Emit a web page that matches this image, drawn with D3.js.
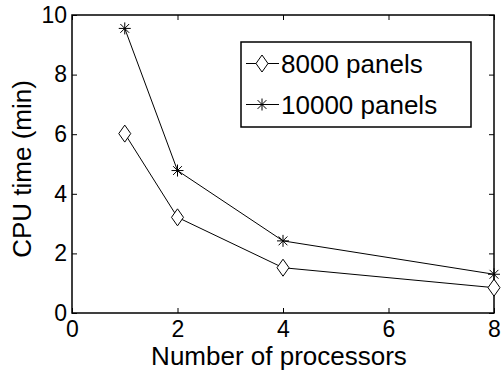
<!DOCTYPE html>
<html>
<head>
<meta charset="utf-8">
<script src="https://cdn.jsdelivr.net/npm/d3@7"></script>
<style>
  html, body { margin: 0; padding: 0; background: #fff; }
  svg text { font-family: "Liberation Sans", Arial, Helvetica, sans-serif; fill: #000; }
</style>
</head>
<body>
<svg id="chart" width="501" height="372"></svg>
<script>
// Processor counts and CPU times (minutes) for the two problem sizes
const processors = [1, 2, 4, 8];
const time8000 = [6.02, 3.21, 1.52, 0.85];
const time10000 = [9.55, 4.78, 2.42, 1.30];
const seriesNames = ["8000 panels", "10000 panels"];
const xTicks = [0, 2, 4, 6, 8];
const yTicks = [0, 2, 4, 6, 8, 10];

const svg = d3.select("#chart");
const plotL = 72, plotR = 494, plotT = 15, plotB = 313;

const x = d3.scaleLinear().domain([0, 8]).range([plotL, plotR]);
const y = d3.scaleLinear().domain([0, 10]).range([plotB, plotT]);

const tickLen = 5;
const tickFont = 23;
const labelFont = 26;

// Axes: ticks point inward, mirrored on top and right edges
const g = svg.append("g");
const xBottom = d3.axisBottom(x).tickValues(xTicks).tickSize(-tickLen).tickPadding(8).tickFormat(d3.format("d"));
const xTop = d3.axisTop(x).tickValues(xTicks).tickSize(-tickLen).tickFormat("");
const yLeft = d3.axisLeft(y).tickValues(yTicks).tickSize(-tickLen).tickPadding(5).tickFormat(d3.format("d"));
const yRight = d3.axisRight(y).tickValues(yTicks).tickSize(-tickLen).tickFormat("");

function styleAxis(sel) {
  sel.select(".domain").remove();
  sel.selectAll(".tick line").attr("stroke", "#000").attr("stroke-width", 1);
  sel.selectAll(".tick text").style("font-size", tickFont + "px").attr("fill", "#000");
}

g.append("g").attr("transform", `translate(0,${plotB})`).call(xBottom).call(styleAxis)
  .selectAll(".tick text").attr("dy", "0.71em");
g.append("g").attr("transform", `translate(0,${plotT})`).call(xTop).call(styleAxis);
g.append("g").attr("transform", `translate(${plotL},0)`).call(yLeft).call(styleAxis);
g.append("g").attr("transform", `translate(${plotR},0)`).call(yRight).call(styleAxis);

// Plot frame
g.append("rect")
  .attr("x", plotL).attr("y", plotT)
  .attr("width", plotR - plotL).attr("height", plotB - plotT)
  .attr("fill", "none").attr("stroke", "#000").attr("stroke-width", 1.5);

// Axis titles
svg.append("text")
  .attr("x", 279).attr("y", 365)
  .attr("text-anchor", "middle")
  .style("font-size", labelFont + "px")
  .text("Number of processors");

svg.append("text")
  .attr("transform", `translate(31,${(plotT + plotB) / 2 + 5}) rotate(-90)`)
  .attr("text-anchor", "middle")
  .style("font-size", labelFont + "px")
  .text("CPU time (min)");

// Marker shapes
function diamond(sel, cx, cy) {
  const hw = 6, hh = 8.5;
  sel.append("path")
    .attr("d", `M${cx},${cy - hh}L${cx + hw},${cy}L${cx},${cy + hh}L${cx - hw},${cy}Z`)
    .attr("fill", "#fff").attr("stroke", "#000").attr("stroke-width", 1);
}
function star(sel, cx, cy) {
  const r = 6, d = 4.4;
  sel.append("path")
    .attr("d", `M${cx - r},${cy}L${cx + r},${cy}M${cx},${cy - r}L${cx},${cy + r}` +
               `M${cx - d},${cy - d}L${cx + d},${cy + d}M${cx - d},${cy + d}L${cx + d},${cy - d}`)
    .attr("fill", "none").attr("stroke", "#000").attr("stroke-width", 1);
}

const line = d3.line().x(d => x(d[0])).y(d => y(d[1]));
const series = [
  { name: seriesNames[0], values: time8000, marker: diamond },
  { name: seriesNames[1], values: time10000, marker: star }
];

series.forEach(s => {
  const pts = processors.map((p, i) => [p, s.values[i]]);
  svg.append("path").datum(pts)
    .attr("d", line).attr("fill", "none")
    .attr("stroke", "#000").attr("stroke-width", 1);
  const mg = svg.append("g");
  pts.forEach(p => s.marker(mg, x(p[0]), y(p[1])));
});

// Legend
const lg = svg.append("g");
lg.append("rect")
  .attr("x", 241).attr("y", 42).attr("width", 230).attr("height", 85)
  .attr("fill", "#fff").attr("stroke", "#000").attr("stroke-width", 1.5);
series.forEach((s, i) => {
  const cy = 63.5 + i * 41;
  lg.append("line").attr("x1", 246).attr("x2", 279).attr("y1", cy).attr("y2", cy)
    .attr("stroke", "#000").attr("stroke-width", 1);
  s.marker(lg, 262, cy);
  lg.append("text").attr("x", 281).attr("y", cy + 9)
    .style("font-size", labelFont + "px").text(s.name);
});
</script>
</body>
</html>
